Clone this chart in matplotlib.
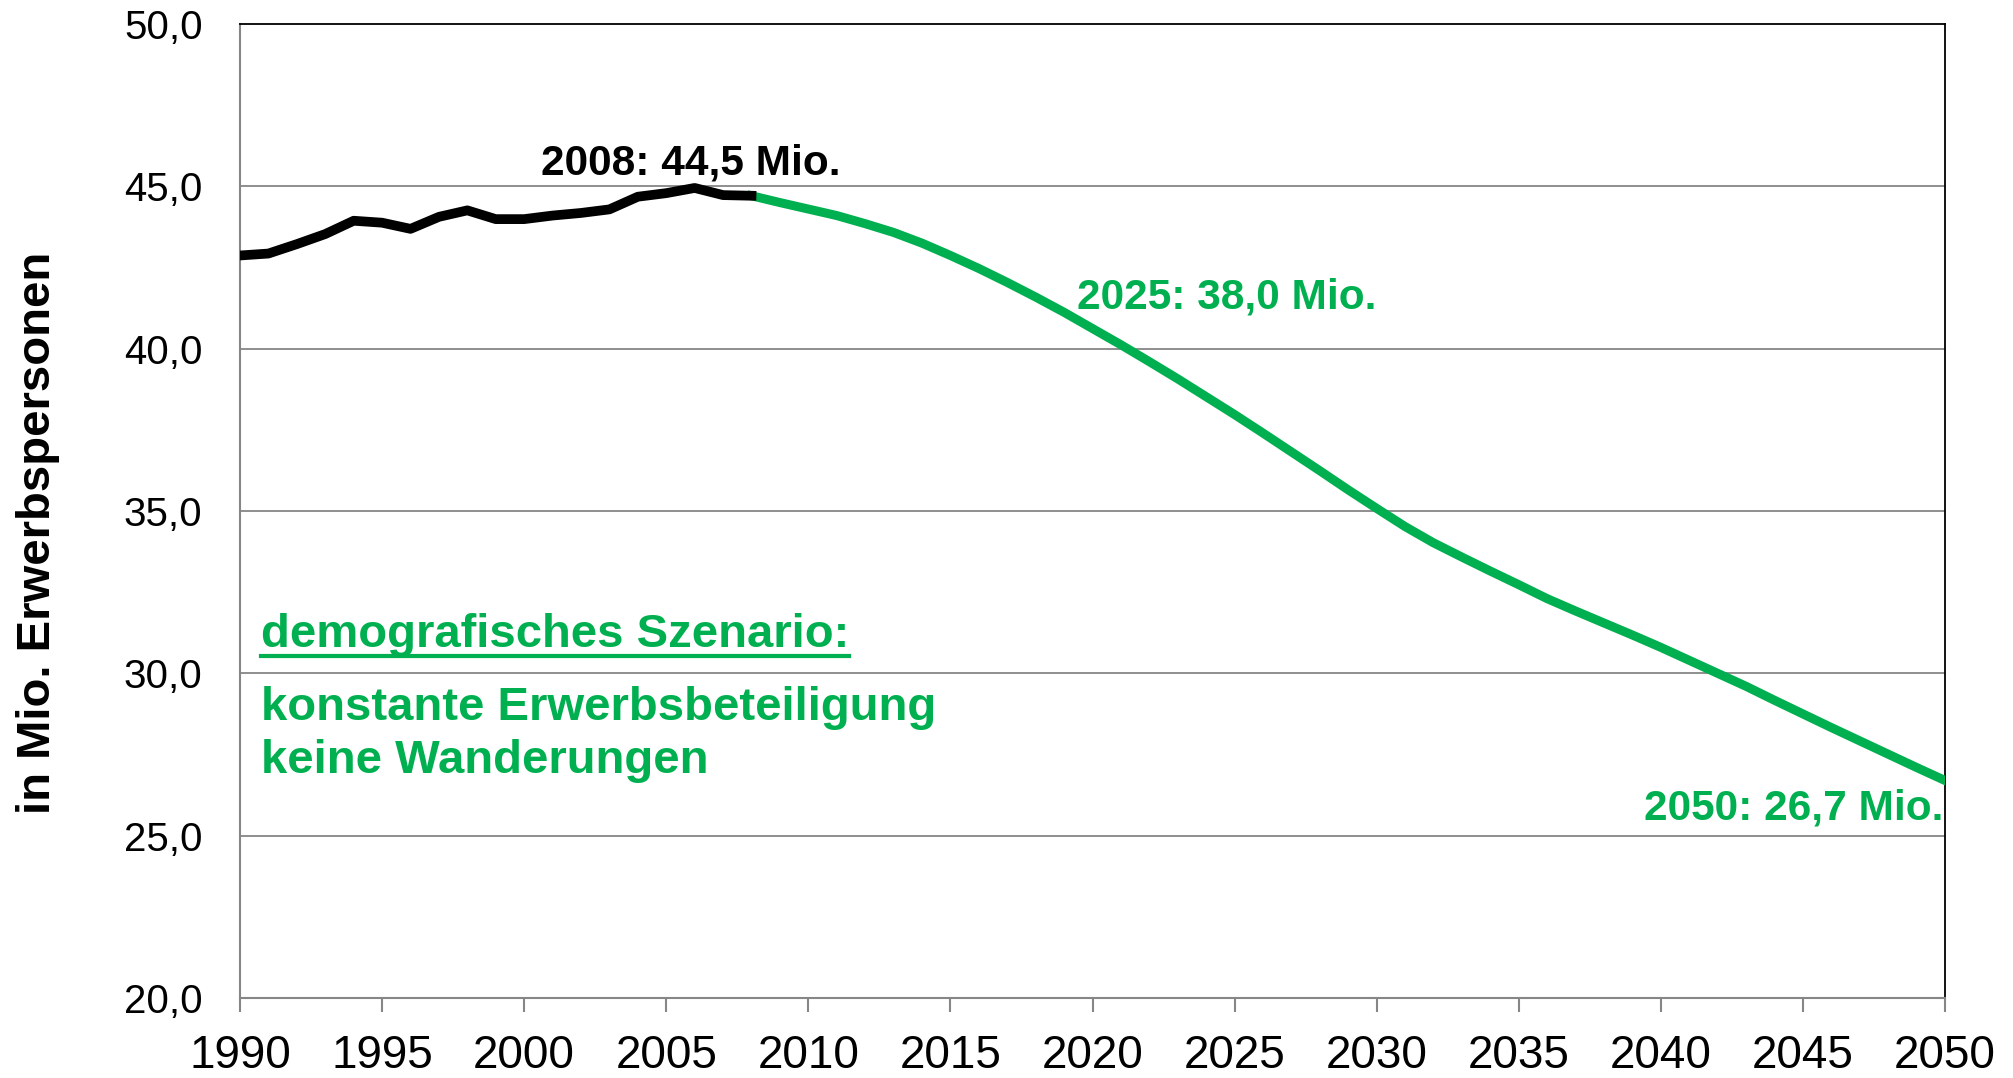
import matplotlib
matplotlib.use("Agg")
import matplotlib.pyplot as plt
from matplotlib.lines import Line2D

# observed labour force 1990-2008 (Mio.)
hist_years = list(range(1990, 2009))
hist_values = [42.87, 42.93, 43.22, 43.53, 43.94, 43.88, 43.69, 44.06, 44.26, 43.99,
               43.99, 44.10, 44.18, 44.29, 44.68, 44.79, 44.95, 44.73, 44.71]

# demographic scenario 2008-2050
proj_years = list(range(2008, 2051))
proj_values = [44.71, 44.50, 44.30, 44.10, 43.85, 43.58, 43.25, 42.87, 42.47, 42.04,
               41.59, 41.12, 40.62, 40.12, 39.60, 39.07, 38.52, 37.97, 37.40, 36.82,
               36.24, 35.65, 35.08, 34.52, 34.02, 33.58, 33.15, 32.73, 32.30, 31.92,
               31.55, 31.18, 30.80, 30.40, 30.00, 29.60, 29.17, 28.75, 28.33, 27.92,
               27.51, 27.10, 26.70]

y_ticks = [20, 25, 30, 35, 40, 45, 50]
x_ticks = list(range(1990, 2051, 5))

green = "#00B050"
grey = "#868686"
plt.rcParams["font.family"] = ["Liberation Sans", "DejaVu Sans"]

fig = plt.figure(figsize=(20.13, 10.78), dpi=100)
ax = fig.add_axes([240 / 2013, 80 / 1078, 1705 / 2013, 974 / 1078])

ax.set_xlim(1990, 2050)
ax.set_ylim(20, 50)
ax.set_yticks(y_ticks)
ax.set_yticklabels([f"{v:.1f}".replace(".", ",") for v in y_ticks])
ax.set_xticks(x_ticks)
ax.set_xticklabels([str(v) for v in x_ticks])

for v in y_ticks[1:-1]:
    ax.axhline(v, color=grey, lw=1.3, zorder=1)

ax.plot(proj_years, proj_values, color=green, lw=6.5, solid_joinstyle="round", zorder=3)
ax.plot(hist_years, hist_values, color="black", lw=7, solid_joinstyle="round", zorder=4)

ax.spines["left"].set_color(grey)
ax.spines["bottom"].set_color(grey)
ax.spines["left"].set_linewidth(1.5)
ax.spines["bottom"].set_linewidth(1.5)
ax.spines["top"].set_color("black")
ax.spines["right"].set_color("black")
ax.spines["top"].set_linewidth(1.3)
ax.spines["right"].set_linewidth(1.3)

ax.tick_params(axis="y", length=0, pad=27, labelsize=29)
ax.tick_params(axis="x", length=10, width=1.5, color=grey, pad=16, labelsize=33)

# value labels
ax.text(1990 + (541 - 240) / 28.42, 45.35, "2008: 44,5 Mio.", fontsize=30.5,
        fontweight="bold", color="black", ha="left", va="baseline")
ax.text(2019.45, 41.25, "2025: 38,0 Mio.", fontsize=30.5,
        fontweight="bold", color=green, ha="left", va="baseline")
ax.text(2049.93, 25.5, "2050: 26,7 Mio.", fontsize=30.5,
        fontweight="bold", color=green, ha="right", va="baseline")

# scenario box text
head = ax.text(1990.74, 30.81, "demografisches Szenario:", fontsize=34,
               fontweight="bold", color=green, ha="left", va="baseline")
ax.text(1990.74, 28.56, "konstante Erwerbsbeteiligung", fontsize=34,
        fontweight="bold", color=green, ha="left", va="baseline")
ax.text(1990.74, 26.93, "keine Wanderungen", fontsize=34,
        fontweight="bold", color=green, ha="left", va="baseline")

# underline for heading
fig.canvas.draw()
bb = head.get_window_extent(fig.canvas.get_renderer())
uy = 1 - 656 / 1078
fig.add_artist(Line2D([bb.x0 / fig.bbox.width, bb.x1 / fig.bbox.width], [uy, uy],
                      color=green, lw=3, transform=fig.transFigure))

fig.text(38 / 2013, 1 - 533 / 1078, "in Mio. Erwerbspersonen", fontsize=34,
         fontweight="bold", rotation=90, ha="center", va="center")

fig.savefig("out.png", dpi=100)
